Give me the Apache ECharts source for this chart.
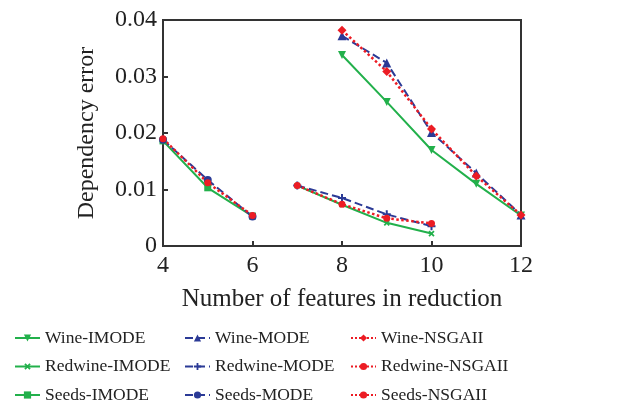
<!DOCTYPE html>
<html>
<head>
<meta charset="utf-8">
<script src="https://cdn.jsdelivr.net/npm/echarts@6/dist/echarts.min.js"></script>
<style>
  html, body { margin: 0; padding: 0; background: #fff; }
  #chart { width: 637px; height: 403px; }
</style>
</head>
<body>
<div id="chart"></div>
<script>
// x positions (number of features) for each data set
const wineX = [8, 9, 10, 11, 12]
const redwineX = [7, 8, 9, 10]
const seedsX = [4, 5, 6]

// dependency error values
const wineIMODE = [0.0338, 0.0255, 0.0170, 0.0110, 0.0054]
const wineMODE = [0.0372, 0.0324, 0.0201, 0.0129, 0.0055]
const wineNSGAII = [0.0382, 0.0309, 0.0207, 0.0124, 0.0055]

const redwineIMODE = [0.0107, 0.0073, 0.0041, 0.0022]
const redwineMODE = [0.0107, 0.0085, 0.0056, 0.0035]
const redwineNSGAII = [0.0107, 0.0074, 0.0049, 0.0040]

const seedsIMODE = [0.0186, 0.0103, 0.0053]
const seedsMODE = [0.0188, 0.0117, 0.0052]
const seedsNSGAII = [0.0190, 0.0112, 0.0054]

const xTicks = [4, 6, 8, 10, 12]

const GREEN = '#22b04b'
const BLUE = '#2b3a96'
const RED = '#ec1c24'
const FONT = 'Liberation Serif'

const PLUS = 'path://M3,0H5V8H3ZM0,3H8V5H0Z'

function pairs(xs, ys) {
  return xs.map((x, i) => [x, ys[i]])
}

function line(name, xs, ys, color, type, symbol, size, rotate) {
  return {
    name: name,
    type: 'line',
    data: pairs(xs, ys),
    symbol: symbol,
    symbolSize: size,
    symbolRotate: rotate || 0,
    showSymbol: true,
    animation: false,
    lineStyle: { color: color, width: type === 'dotted' ? 2.5 : 2, type: type },
    itemStyle: { color: color }
  }
}

const series = [
  line('Wine-IMODE', wineX, wineIMODE, GREEN, 'solid', 'triangle', 8, 180),
  line('Redwine-IMODE', redwineX, redwineIMODE, GREEN, 'solid', PLUS, 7, 45),
  line('Seeds-IMODE', seedsX, seedsIMODE, GREEN, 'solid', 'rect', 7),
  line('Wine-MODE', wineX, wineMODE, BLUE, 'dashed', 'triangle', 9),
  line('Redwine-MODE', redwineX, redwineMODE, BLUE, 'dashed', PLUS, 8),
  line('Seeds-MODE', seedsX, seedsMODE, BLUE, 'dashed', 'circle', 8),
  line('Wine-NSGAII', wineX, wineNSGAII, RED, 'dotted', 'diamond', 9),
  line('Redwine-NSGAII', redwineX, redwineNSGAII, RED, 'dotted', 'circle', 7),
  line('Seeds-NSGAII', seedsX, seedsNSGAII, RED, 'dotted', 'circle', 7)
]

function legendCol(left, names) {
  return {
    orient: 'vertical',
    left: left,
    top: 329,
    height: 100,
    padding: 0,
    itemWidth: 25,
    itemHeight: 9,
    itemGap: 10.5,
    data: names,
    textStyle: { fontFamily: FONT, fontSize: 17.5, color: '#222' }
  }
}

const chart = echarts.init(document.getElementById('chart'))
chart.setOption({
  animation: false,
  grid: {
    left: 163, right: 116, top: 20, bottom: 157,
    show: true, borderColor: '#333', borderWidth: 2
  },
  legend: [
    legendCol(14, ['Wine-IMODE', 'Redwine-IMODE', 'Seeds-IMODE']),
    legendCol(184, ['Wine-MODE', 'Redwine-MODE', 'Seeds-MODE']),
    legendCol(350, ['Wine-NSGAII', 'Redwine-NSGAII', 'Seeds-NSGAII'])
  ],
  xAxis: {
    type: 'value',
    min: xTicks[0],
    max: xTicks[xTicks.length - 1],
    interval: 2,
    name: 'Number of features in reduction',
    nameLocation: 'middle',
    nameGap: 41,
    nameTextStyle: { fontFamily: FONT, fontSize: 25, color: '#222' },
    axisLine: { lineStyle: { color: '#333', width: 2 } },
    axisTick: { inside: true, length: 5, lineStyle: { color: '#333', width: 2 } },
    axisLabel: { fontFamily: FONT, fontSize: 24, color: '#222', margin: 8 },
    splitLine: { show: false }
  },
  yAxis: {
    type: 'value',
    min: 0,
    max: 0.04,
    interval: 0.01,
    name: 'Dependency error',
    nameLocation: 'middle',
    nameRotate: 90,
    nameGap: 64,
    nameTextStyle: { fontFamily: FONT, fontSize: 24, color: '#222' },
    axisLine: { show: true, lineStyle: { color: '#333', width: 2 } },
    axisTick: { show: true, inside: true, length: 5, lineStyle: { color: '#333', width: 2 } },
    axisLabel: { fontFamily: FONT, fontSize: 24, color: '#222', margin: 6 },
    splitLine: { show: false }
  },
  series: series
})
</script>
</body>
</html>
